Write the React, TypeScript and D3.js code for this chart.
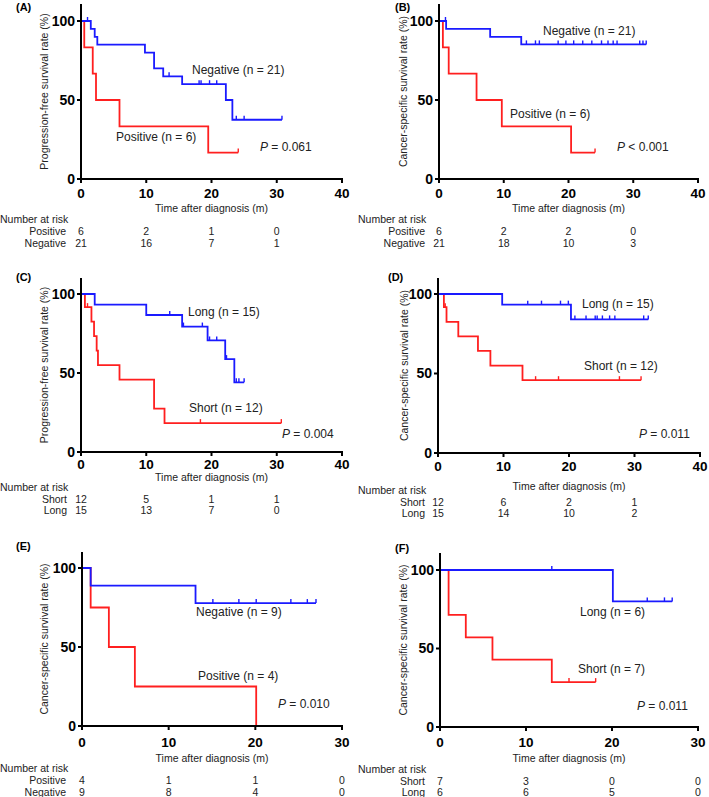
import React from 'react';
import * as d3 from 'd3';

type Step = [number, number];

// ---------- data ----------
const xTicks40 = [0, 10, 20, 30, 40];
const xTicks30 = [0, 10, 20, 30];
const yTicks = [0, 50, 100];

// Panel A (PFS, positive vs negative)
const aNegSteps: Step[] = [[1.5, 95], [2.1, 90], [2.5, 85], [9.8, 80], [11.2, 70], [12.6, 65], [15.5, 60], [22.2, 50], [23.2, 37.5]];
const aNegCensor = [1.0, 13.5, 18.1, 18.4, 19.7, 20.8, 23.8, 25.0, 30.8];
const aPosSteps: Step[] = [[0.5, 83.3], [1.8, 66.7], [2.3, 50], [5.9, 33.3], [19.5, 16.7]];
const aPosCensor = [24.1];
const aRiskPos = [6, 2, 1, 0];
const aRiskNeg = [21, 16, 7, 1];

// Panel B (CSS, positive vs negative)
const bNegSteps: Step[] = [[1.1, 95], [7.9, 90], [12.7, 85.2]];
const bNegCensor = [1.0, 13.5, 14.9, 15.5, 18.4, 19.6, 20.8, 22.2, 23.6, 25.1, 26.1, 26.9, 27.5, 31.0, 31.5, 32.0];
const bPosSteps: Step[] = [[0.6, 83.3], [1.5, 66.7], [5.8, 50], [9.7, 33.3], [20.4, 16.7]];
const bPosCensor = [24.1];
const bRiskPos = [6, 2, 2, 0];
const bRiskNeg = [21, 18, 10, 3];

// Panel C (PFS, short vs long)
const cLongSteps: Step[] = [[2.1, 93.3], [10.0, 86.7], [15.5, 79.4], [19.4, 70.6], [22.1, 58.8], [23.5, 44.1]];
const cLongCensor = [13.6, 15.7, 18.6, 19.7, 20.8, 22.3, 23.8, 24.2, 25.0];
const cShortSteps: Step[] = [[0.6, 91.7], [1.6, 82.5], [2.0, 73.3], [2.4, 64.2], [2.6, 55.0], [5.9, 45.8], [11.2, 27.5], [12.8, 18.3]];
const cShortCensor = [1.0, 18.3, 30.7];
const cRiskShort = [12, 5, 1, 1];
const cRiskLong = [15, 13, 7, 0];

// Panel D (CSS, short vs long)
const dLongSteps: Step[] = [[9.8, 93.3], [20.3, 84.0]];
const dLongCensor = [13.7, 15.8, 18.7, 19.9, 20.9, 22.6, 24.0, 24.3, 25.1, 26.2, 27.0, 31.4, 32.1];
const dShortSteps: Step[] = [[0.9, 91.7], [1.3, 82.5], [3.1, 73.3], [6.1, 64.2], [8.0, 55.0], [12.9, 45.8]];
const dShortCensor = [1.1, 14.9, 18.4, 27.7, 31.0];
const dRiskShort = [12, 6, 2, 1];
const dRiskLong = [15, 14, 10, 2];

// Panel E (CSS, positive vs negative)
const eNegSteps: Step[] = [[1.0, 88.9], [13.1, 77.8]];
const eNegCensor = [15.1, 18.1, 20.1, 24.1, 26.0, 27.0];
const ePosSteps: Step[] = [[1.0, 75], [3.1, 50], [6.1, 25], [20.1, 0]];
const ePosCensor: number[] = [];
const eRiskPos = [4, 1, 1, 0];
const eRiskNeg = [9, 8, 4, 0];

// Panel F (CSS, short vs long)
const fLongSteps: Step[] = [[20.1, 80]];
const fLongCensor = [13.0, 24.1, 26.1, 27.0];
const fShortSteps: Step[] = [[1.0, 71.4], [3.0, 57.1], [6.1, 42.9], [13.0, 28.6]];
const fShortCensor = [15.0, 18.1];
const fRiskShort = [7, 3, 0, 0];
const fRiskLong = [6, 6, 5, 0];

// ---------- styling ----------
const BLUE = '#1a1aff';
const RED = '#ff1f1f';
const FONT = "'Liberation Sans', Arial, Helvetica, sans-serif";
const SMALL = 10;

interface Curve { steps: Step[]; censor: number[]; end: number; color: string; }
interface Ann { text: string; x: number; y: number; italicP?: boolean; }
interface PanelCfg {
  label: string; lx: number; ly: number;
  left: number; right: number; top: number; bottom: number; axisTop: number;
  xTicks: number[]; yTitle: string; yTitleX: number;
  tickY: number; titleY: number; narY: number; row1Y: number; row2Y: number;
  narX: number; groupX: number; groups: string[]; risks: number[][];
  curves: Curve[]; anns: Ann[];
}

function survAt(steps: Step[], t: number) {
  let s = 100;
  for (const [st, v] of steps) if (st <= t) s = v;
  return s;
}

function lastEnd(steps: Step[], censor: number[]) {
  const a = steps.map((d) => d[0]);
  return Math.max(...a, ...censor);
}

const Panel: React.FC<{ p: PanelCfg }> = ({ p }) => {
  const xMax = p.xTicks[p.xTicks.length - 1];
  const x = d3.scaleLinear().domain([0, xMax]).range([p.left, p.right]);
  const y = d3.scaleLinear().domain([0, 100]).range([p.bottom, p.top]);
  const line = d3.line<Step>().x((d) => x(d[0])).y((d) => y(d[1])).curve(d3.curveStepAfter);
  const yMid = (p.axisTop + p.bottom) / 2;
  return (
    <g fontFamily={FONT}>
      <text x={p.lx} y={p.ly} dy="0.35em" fontSize={11} fontWeight="bold">{p.label}</text>
      {p.curves.map((c, i) => {
        const pts: Step[] = [[0, 100], ...c.steps];
        pts.push([c.end, c.steps.length ? c.steps[c.steps.length - 1][1] : 100]);
        return (
          <g key={i}>
            <path d={line(pts) || ''} fill="none" stroke={c.color} strokeWidth={1.8} />
            {c.censor.map((t, j) => (
              <line key={j} x1={x(t)} x2={x(t)} y1={y(survAt(c.steps, t))} y2={y(survAt(c.steps, t)) - 4}
                stroke={c.color} strokeWidth={1.4} />
            ))}
          </g>
        );
      })}
      <line x1={p.left} x2={p.left} y1={p.axisTop} y2={p.bottom + 1} stroke="#000" strokeWidth={2} />
      <line x1={p.left - 1} x2={p.right + 1} y1={p.bottom} y2={p.bottom} stroke="#000" strokeWidth={2} />
      {yTicks.map((v) => (
        <g key={v}>
          <line x1={p.left - 4} x2={p.left} y1={y(v)} y2={y(v)} stroke="#000" strokeWidth={2} />
          <text x={p.left - 6} y={y(v)} dy="0.35em" textAnchor="end" fontSize={14} fontWeight="bold">{v}</text>
        </g>
      ))}
      {p.xTicks.map((v) => (
        <g key={v}>
          <line x1={x(v)} x2={x(v)} y1={p.bottom} y2={p.bottom + 4} stroke="#000" strokeWidth={2} />
          <text x={x(v)} y={p.tickY} dy="0.35em" textAnchor="middle" fontSize={13.5} fontWeight="bold">{v}</text>
        </g>
      ))}
      <text transform={`translate(${p.yTitleX},${yMid}) rotate(-90)`} dy="0.35em" textAnchor="middle" fontSize={10.5} fill="#222">{p.yTitle}</text>
      <text x={(p.left + p.right) / 2} y={p.titleY} dy="0.35em" textAnchor="middle" fontSize={SMALL + 0.5} fill="#222">Time after diagnosis (m)</text>
      {p.anns.map((a, i) => (
        <text key={i} x={a.x} y={a.y} dy="0.35em" fontSize={12} fill="#222">
          {a.italicP ? (<><tspan fontStyle="italic">P</tspan>{a.text}</>) : a.text}
        </text>
      ))}
      <text x={p.narX} y={p.narY} dy="0.35em" fontSize={SMALL + 0.5} fill="#222">Number at risk</text>
      {[p.row1Y, p.row2Y].map((ry, gi) => (
        <g key={gi}>
          <text x={p.groupX} y={ry} dy="0.35em" textAnchor="end" fontSize={SMALL + 0.5} fill="#222">{p.groups[gi]}</text>
          {p.risks[gi].map((v, k) => (
            <text key={k} x={x(p.xTicks[k])} y={ry} dy="0.35em" textAnchor="middle" fontSize={SMALL + 0.5} fill="#222">{v}</text>
          ))}
        </g>
      ))}
    </g>
  );
};

const PFS = 'Progression-free survival rate (%)';
const CSS = 'Cancer-specific survival rate (%)';

const panels: PanelCfg[] = [
  {
    label: '(A)', lx: 16, ly: 7, left: 81, right: 342, top: 21, bottom: 179, axisTop: 4,
    xTicks: xTicks40, yTitle: PFS, yTitleX: 44,
    tickY: 193, titleY: 208, narY: 219, row1Y: 231, row2Y: 243, narX: 0, groupX: 66,
    groups: ['Positive', 'Negative'], risks: [aRiskPos, aRiskNeg],
    curves: [
      { steps: aPosSteps, censor: aPosCensor, end: lastEnd(aPosSteps, aPosCensor), color: RED },
      { steps: aNegSteps, censor: aNegCensor, end: lastEnd(aNegSteps, aNegCensor), color: BLUE },
    ],
    anns: [
      { text: 'Negative (n = 21)', x: 192, y: 70 },
      { text: 'Positive (n = 6)', x: 116, y: 137 },
      { text: ' = 0.061', x: 260, y: 147, italicP: true },
    ],
  },
  {
    label: '(B)', lx: 395, ly: 7, left: 439, right: 698, top: 21, bottom: 179, axisTop: 4,
    xTicks: xTicks40, yTitle: CSS, yTitleX: 403,
    tickY: 193, titleY: 208, narY: 219, row1Y: 231, row2Y: 243, narX: 358, groupX: 425,
    groups: ['Positive', 'Negative'], risks: [bRiskPos, bRiskNeg],
    curves: [
      { steps: bPosSteps, censor: bPosCensor, end: lastEnd(bPosSteps, bPosCensor), color: RED },
      { steps: bNegSteps, censor: bNegCensor, end: lastEnd(bNegSteps, bNegCensor), color: BLUE },
    ],
    anns: [
      { text: 'Negative (n = 21)', x: 543, y: 31 },
      { text: 'Positive (n = 6)', x: 510, y: 114 },
      { text: ' < 0.001', x: 617, y: 147, italicP: true },
    ],
  },
  {
    label: '(C)', lx: 16, ly: 277, left: 81, right: 342, top: 294, bottom: 452, axisTop: 278,
    xTicks: xTicks40, yTitle: PFS, yTitleX: 44,
    tickY: 464, titleY: 477, narY: 487, row1Y: 499, row2Y: 510, narX: 0, groupX: 67,
    groups: ['Short', 'Long'], risks: [cRiskShort, cRiskLong],
    curves: [
      { steps: cShortSteps, censor: cShortCensor, end: lastEnd(cShortSteps, cShortCensor), color: RED },
      { steps: cLongSteps, censor: cLongCensor, end: lastEnd(cLongSteps, cLongCensor), color: BLUE },
    ],
    anns: [
      { text: 'Long (n = 15)', x: 188, y: 312 },
      { text: 'Short (n = 12)', x: 189, y: 408 },
      { text: ' = 0.004', x: 282, y: 434, italicP: true },
    ],
  },
  {
    label: '(D)', lx: 388, ly: 277, left: 438, right: 700, top: 294, bottom: 453, axisTop: 278,
    xTicks: xTicks40, yTitle: CSS, yTitleX: 404,
    tickY: 466, titleY: 486, narY: 490, row1Y: 502, row2Y: 513, narX: 358, groupX: 425,
    groups: ['Short', 'Long'], risks: [dRiskShort, dRiskLong],
    curves: [
      { steps: dShortSteps, censor: dShortCensor, end: lastEnd(dShortSteps, dShortCensor), color: RED },
      { steps: dLongSteps, censor: dLongCensor, end: lastEnd(dLongSteps, dLongCensor), color: BLUE },
    ],
    anns: [
      { text: 'Long (n = 15)', x: 582, y: 304 },
      { text: 'Short (n = 12)', x: 584, y: 366 },
      { text: ' = 0.011', x: 639, y: 434, italicP: true },
    ],
  },
  {
    label: '(E)', lx: 16, ly: 546, left: 82, right: 342, top: 568, bottom: 726, axisTop: 552,
    xTicks: xTicks30, yTitle: CSS, yTitleX: 44,
    tickY: 742, titleY: 758, narY: 768, row1Y: 780, row2Y: 792, narX: 0, groupX: 66,
    groups: ['Positive', 'Negative'], risks: [eRiskPos, eRiskNeg],
    curves: [
      { steps: ePosSteps, censor: ePosCensor, end: lastEnd(ePosSteps, ePosCensor), color: RED },
      { steps: eNegSteps, censor: eNegCensor, end: lastEnd(eNegSteps, eNegCensor), color: BLUE },
    ],
    anns: [
      { text: 'Negative (n = 9)', x: 196, y: 612 },
      { text: 'Positive (n = 4)', x: 198, y: 676 },
      { text: ' = 0.010', x: 278, y: 704, italicP: true },
    ],
  },
  {
    label: '(F)', lx: 395, ly: 548, left: 440, right: 698, top: 570, bottom: 727, axisTop: 553,
    xTicks: xTicks30, yTitle: CSS, yTitleX: 403,
    tickY: 742, titleY: 758, narY: 769, row1Y: 781, row2Y: 792, narX: 358, groupX: 425,
    groups: ['Short', 'Long'], risks: [fRiskShort, fRiskLong],
    curves: [
      { steps: fShortSteps, censor: fShortCensor, end: lastEnd(fShortSteps, fShortCensor), color: RED },
      { steps: fLongSteps, censor: fLongCensor, end: lastEnd(fLongSteps, fLongCensor), color: BLUE },
    ],
    anns: [
      { text: 'Long (n = 6)', x: 580, y: 612 },
      { text: 'Short (n = 7)', x: 578, y: 669 },
      { text: ' = 0.011', x: 637, y: 706, italicP: true },
    ],
  },
];

export default function App() {
  return (
    <svg width={709} height={797} style={{ position: 'absolute', left: 0, top: 0, background: '#fff' }}>
      <rect width={709} height={797} fill="#fff" />
      {panels.map((p) => <Panel key={p.label} p={p} />)}
    </svg>
  );
}
